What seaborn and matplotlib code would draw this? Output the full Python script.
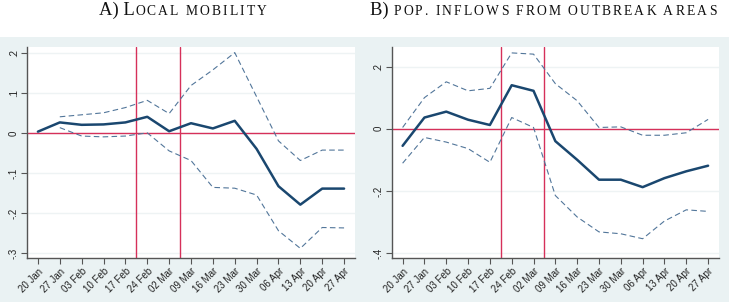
import numpy as np
import pandas as pd
import matplotlib
matplotlib.use("Agg")
import matplotlib.pyplot as plt
import seaborn as sns
from matplotlib.offsetbox import TextArea, HPacker, AnchoredOffsetbox
from matplotlib.patches import Rectangle

weeks = ["20 Jan", "27 Jan", "03 Feb", "10 Feb", "17 Feb", "24 Feb", "02 Mar",
         "09 Mar", "16 Mar", "23 Mar", "30 Mar", "06 Apr", "13 Apr", "20 Apr", "27 Apr"]

a_coef = [0.003, 0.026, 0.020, 0.021, 0.026, 0.040, 0.004, 0.024, 0.011, 0.030,
          -0.040, -0.133, -0.179, -0.139, -0.139]
a_upper = [np.nan, 0.040, 0.045, 0.050, 0.063, 0.081, 0.048, 0.118, 0.157, 0.200,
           0.090, -0.020, -0.069, -0.043, -0.043]
a_lower = [np.nan, 0.013, -0.008, -0.010, -0.008, 0.000, -0.045, -0.069, -0.136, -0.138,
           -0.155, -0.244, -0.288, -0.236, -0.237]

b_coef = [-0.055, 0.036, 0.055, 0.029, 0.012, 0.140, 0.122, -0.040, -0.100, -0.164,
          -0.164, -0.188, -0.159, -0.137, -0.119]
b_upper = [0.004, 0.100, 0.151, 0.122, 0.130, 0.244, 0.240, 0.145, 0.090, 0.004,
           0.006, -0.021, -0.021, -0.013, 0.030]
b_lower = [-0.111, -0.028, -0.043, -0.064, -0.108, 0.036, 0.004, -0.215, -0.284, -0.332,
           -0.338, -0.354, -0.297, -0.261, -0.266]

a_yticks = [0.2, 0.1, 0.0, -0.1, -0.2, -0.3]
a_yticklabels = [".2", ".1", "0", "-.1", "-.2", "-.3"]
b_yticks = [0.2, 0.0, -0.2, -0.4]
b_yticklabels = [".2", "0", "-.2", "-.4"]

event_lines = [4.5, 6.5]

title_a = ("A) L", "OCAL MOBILITY")
title_b = ("B) ", "POP. INFLOWS FROM OUTBREAK AREAS")

NAVY = "#1a476f"
DASH = "#52769a"
RED = "#d6305a"
BG = "#eaf2f3"

sns.set_style("white")
plt.rcParams["font.family"] = ["Liberation Sans", "DejaVu Sans"]

fig = plt.figure(figsize=(7.29, 3.02), dpi=100)
fig.patch.set_facecolor("white")
fig.add_artist(Rectangle((0, 0), 1, (302 - 37) / 302, transform=fig.transFigure,
                         facecolor=BG, edgecolor="none", zorder=-10))

ax_a = fig.add_axes([27 / 729, 44 / 302, 328 / 729, 211 / 302])
ax_b = fig.add_axes([391.7 / 729, 44 / 302, 327.3 / 729, 211 / 302])

x = np.arange(len(weeks))

def draw(ax, coef, up, lo, yticks, ylabels, ylim):
    df = pd.DataFrame({"x": x, "coef": coef, "up": up, "lo": lo})
    ax.set_facecolor("white")
    for t in yticks:
        ax.axhline(t, color="#eef3f4", lw=1.0, zorder=0)
    for v in event_lines:
        ax.axvline(v, color=RED, lw=1.0, zorder=1)
    ax.axhline(0, color=RED, lw=1.0, zorder=1)
    sns.lineplot(data=df, x="x", y="up", ax=ax, color=DASH, lw=0.8,
                 linestyle=(0, (5, 3)), zorder=2)
    sns.lineplot(data=df, x="x", y="lo", ax=ax, color=DASH, lw=0.8,
                 linestyle=(0, (5, 3)), zorder=2)
    sns.lineplot(data=df, x="x", y="coef", ax=ax, color=NAVY, lw=1.8, zorder=3)
    ax.set_xlim(-0.5, 14.5)
    ax.set_ylim(*ylim)
    ax.set_yticks(yticks)
    ax.set_yticklabels(ylabels, rotation=90, va="center", fontsize=7, color="#222222")
    ax.set_xticks(x)
    ax.set_xticklabels(weeks, rotation=45, ha="right", rotation_mode="anchor",
                       fontsize=7, color="#222222")
    ax.set_xlabel("")
    ax.set_ylabel("")
    for s in ["top", "right"]:
        ax.spines[s].set_visible(False)
    for s in ["left", "bottom"]:
        ax.spines[s].set_color("#555555")
        ax.spines[s].set_linewidth(1.0)
    ax.tick_params(axis="both", which="both", direction="out", length=4, width=0.8,
                   color="#555555", pad=2, bottom=True, left=True)

draw(ax_a, a_coef, a_upper, a_lower, a_yticks, a_yticklabels, (-0.312, 0.214))
draw(ax_b, b_coef, b_upper, b_lower, b_yticks, b_yticklabels, (-0.416, 0.263))

def smallcaps_title(big, small, xc, yc, track=1.5, big_size=13.4, small_size=9.8):
    serif = ["Liberation Serif", "DejaVu Serif"]
    props_big = dict(fontsize=big_size, family=serif, color="#111111")
    props_small = dict(fontsize=small_size, family=serif, color="#111111")
    words = small.split(" ")
    word_boxes = []
    for w in words:
        chars = [TextArea(c, textprops=props_small) for c in w]
        word_boxes.append(HPacker(children=chars, align="baseline", pad=0, sep=track))
    small_box = HPacker(children=word_boxes, align="baseline", pad=0,
                        sep=2 * track + 2.3)
    box = HPacker(children=[TextArea(big, textprops=props_big), small_box],
                  align="baseline", pad=0, sep=0.5)
    anch = AnchoredOffsetbox(loc="center", child=box, bbox_to_anchor=(xc, yc),
                             bbox_transform=fig.transFigure, frameon=False,
                             pad=0, borderpad=0)
    fig.add_artist(anch)

smallcaps_title(*title_a, 182.5 / 729, 1 - 10 / 302)
smallcaps_title(*title_b, 543 / 729, 1 - 10 / 302)

fig.savefig("out.png", dpi=100, facecolor=fig.get_facecolor())
